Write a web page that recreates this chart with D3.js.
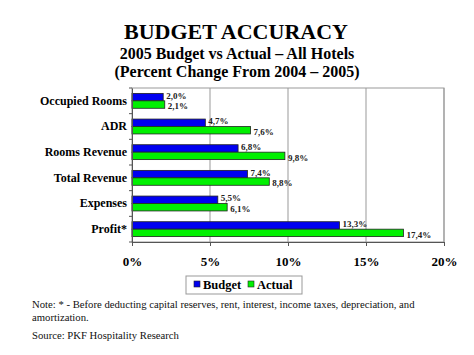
<!DOCTYPE html>
<html><head><meta charset="utf-8">
<script src="https://cdn.jsdelivr.net/npm/d3@7"></script>
<style>body{margin:0;background:#fff}svg{display:block}</style>
</head><body>
<script>
const categories = ["Occupied Rooms","ADR","Rooms Revenue","Total Revenue","Expenses","Profit*"];
const budget = [2.0,4.7,6.8,7.4,5.5,13.3];
const actual = [2.1,7.6,9.8,8.8,6.1,17.4];
const xTicks = [0,5,10,15,20];
const seriesNames = ["Budget","Actual"];
const colors = ["#0000f0","#00f000"];

(function(){
const W=474,H=355;
const svg=d3.select("body").append("svg").attr("width",W).attr("height",H);
const font="'Liberation Serif','Times New Roman',serif";
const pL=132,pR=444,pT=88,pB=242;
const x=d3.scaleLinear().domain([0,20]).range([pL,pR]);
const y=d3.scaleBand().domain(categories).range([pT,pB]).paddingInner(0.42).paddingOuter(0.21);
const sub=d3.scaleBand().domain(seriesNames).range([0,y.bandwidth()]);

// titles
const t=svg.append("g").attr("font-family",font).attr("font-weight","bold").attr("text-anchor","middle").attr("fill","#000");
t.append("text").attr("x",236).attr("y",39).attr("font-size",22).text("BUDGET ACCURACY");
t.append("text").attr("x",237).attr("y",59).attr("font-size",16).text("2005 Budget vs Actual – All Hotels");
t.append("text").attr("x",237).attr("y",77).attr("font-size",16).text("(Percent Change From 2004 – 2005)");

// gridlines
svg.append("g").selectAll("line").data(xTicks.slice(1)).join("line")
  .attr("x1",d=>x(d)).attr("x2",d=>x(d)).attr("y1",pT).attr("y2",pB)
  .attr("stroke","#999").attr("stroke-width",1);
svg.append("rect").attr("x",pL).attr("y",pT).attr("width",pR-pL).attr("height",pB-pT)
  .attr("fill","none").attr("stroke","#999").attr("stroke-width",1);

// bars
const data=categories.map((c,i)=>({c,vals:[{s:"Budget",v:budget[i]},{s:"Actual",v:actual[i]}]}));
const g=svg.append("g");
const grp=g.selectAll("g").data(data).join("g").attr("transform",d=>`translate(0,${y(d.c)})`);
grp.selectAll("rect").data(d=>d.vals).join("rect")
  .attr("x",x(0)).attr("y",d=>sub(d.s)).attr("width",d=>x(d.v)-x(0)).attr("height",sub.bandwidth())
  .attr("fill",(d,i)=>colors[i]).attr("stroke","#222").attr("stroke-width",0.8);
grp.selectAll("text").data(d=>d.vals).join("text")
  .attr("x",d=>x(d.v)+3).attr("y",(d,i)=>sub(d.s)+sub.bandwidth()/2+3.2+(i===0?-1.5:1.5))
  .attr("font-family",font).attr("font-weight","bold").attr("font-size",9).attr("fill","#222")
  .text(d=>d.v.toFixed(1).replace(".",",")+"%");

// axes
const xa=svg.append("g").attr("transform",`translate(0,${pB})`)
  .call(d3.axisBottom(x).tickValues(xTicks).tickSize(4).tickSizeOuter(0).tickFormat(d=>d+"%"));
xa.select(".domain").attr("stroke","#555");
xa.selectAll(".tick line").attr("stroke","#555");
xa.selectAll("text").attr("font-family",font).attr("font-weight","bold").attr("font-size",13).attr("fill","#000").attr("dy","1.3em");

const ya=svg.append("g").attr("transform",`translate(${pL},0)`)
  .call(d3.axisLeft(y).tickSize(0).tickPadding(5));
ya.select(".domain").attr("stroke","#555");
ya.selectAll("text").attr("font-family",font).attr("font-weight","bold").attr("font-size",12).attr("fill","#000");
const bounds=d3.range(categories.length+1).map(i=>pT+i*(pB-pT)/categories.length);
svg.append("g").selectAll("line").data(bounds).join("line")
  .attr("x1",pL-3).attr("x2",pL).attr("y1",d=>d).attr("y2",d=>d).attr("stroke","#555");

// legend
const lg=svg.append("g");
lg.append("rect").attr("x",186).attr("y",276).attr("width",116).attr("height",18).attr("fill","#fff").attr("stroke","#999");
const lx=[194,248];
seriesNames.forEach((s,i)=>{
  lg.append("rect").attr("x",lx[i]).attr("y",281).attr("width",6).attr("height",6).attr("fill",colors[i]).attr("stroke","#222").attr("stroke-width",0.6);
  lg.append("text").attr("x",lx[i]+9).attr("y",289).attr("font-family",font).attr("font-weight","bold").attr("font-size",12.5).text(s);
});

// notes
const n=svg.append("g").attr("font-family",font).attr("font-size",10.7).attr("fill","#111");
n.append("text").attr("x",32).attr("y",308).text("Note: * - Before deducting capital reserves, rent, interest, income taxes, depreciation, and");
n.append("text").attr("x",32).attr("y",321).text("amortization.");
n.append("text").attr("x",32).attr("y",339).text("Source: PKF Hospitality Research");
})();
</script>
</body></html>
